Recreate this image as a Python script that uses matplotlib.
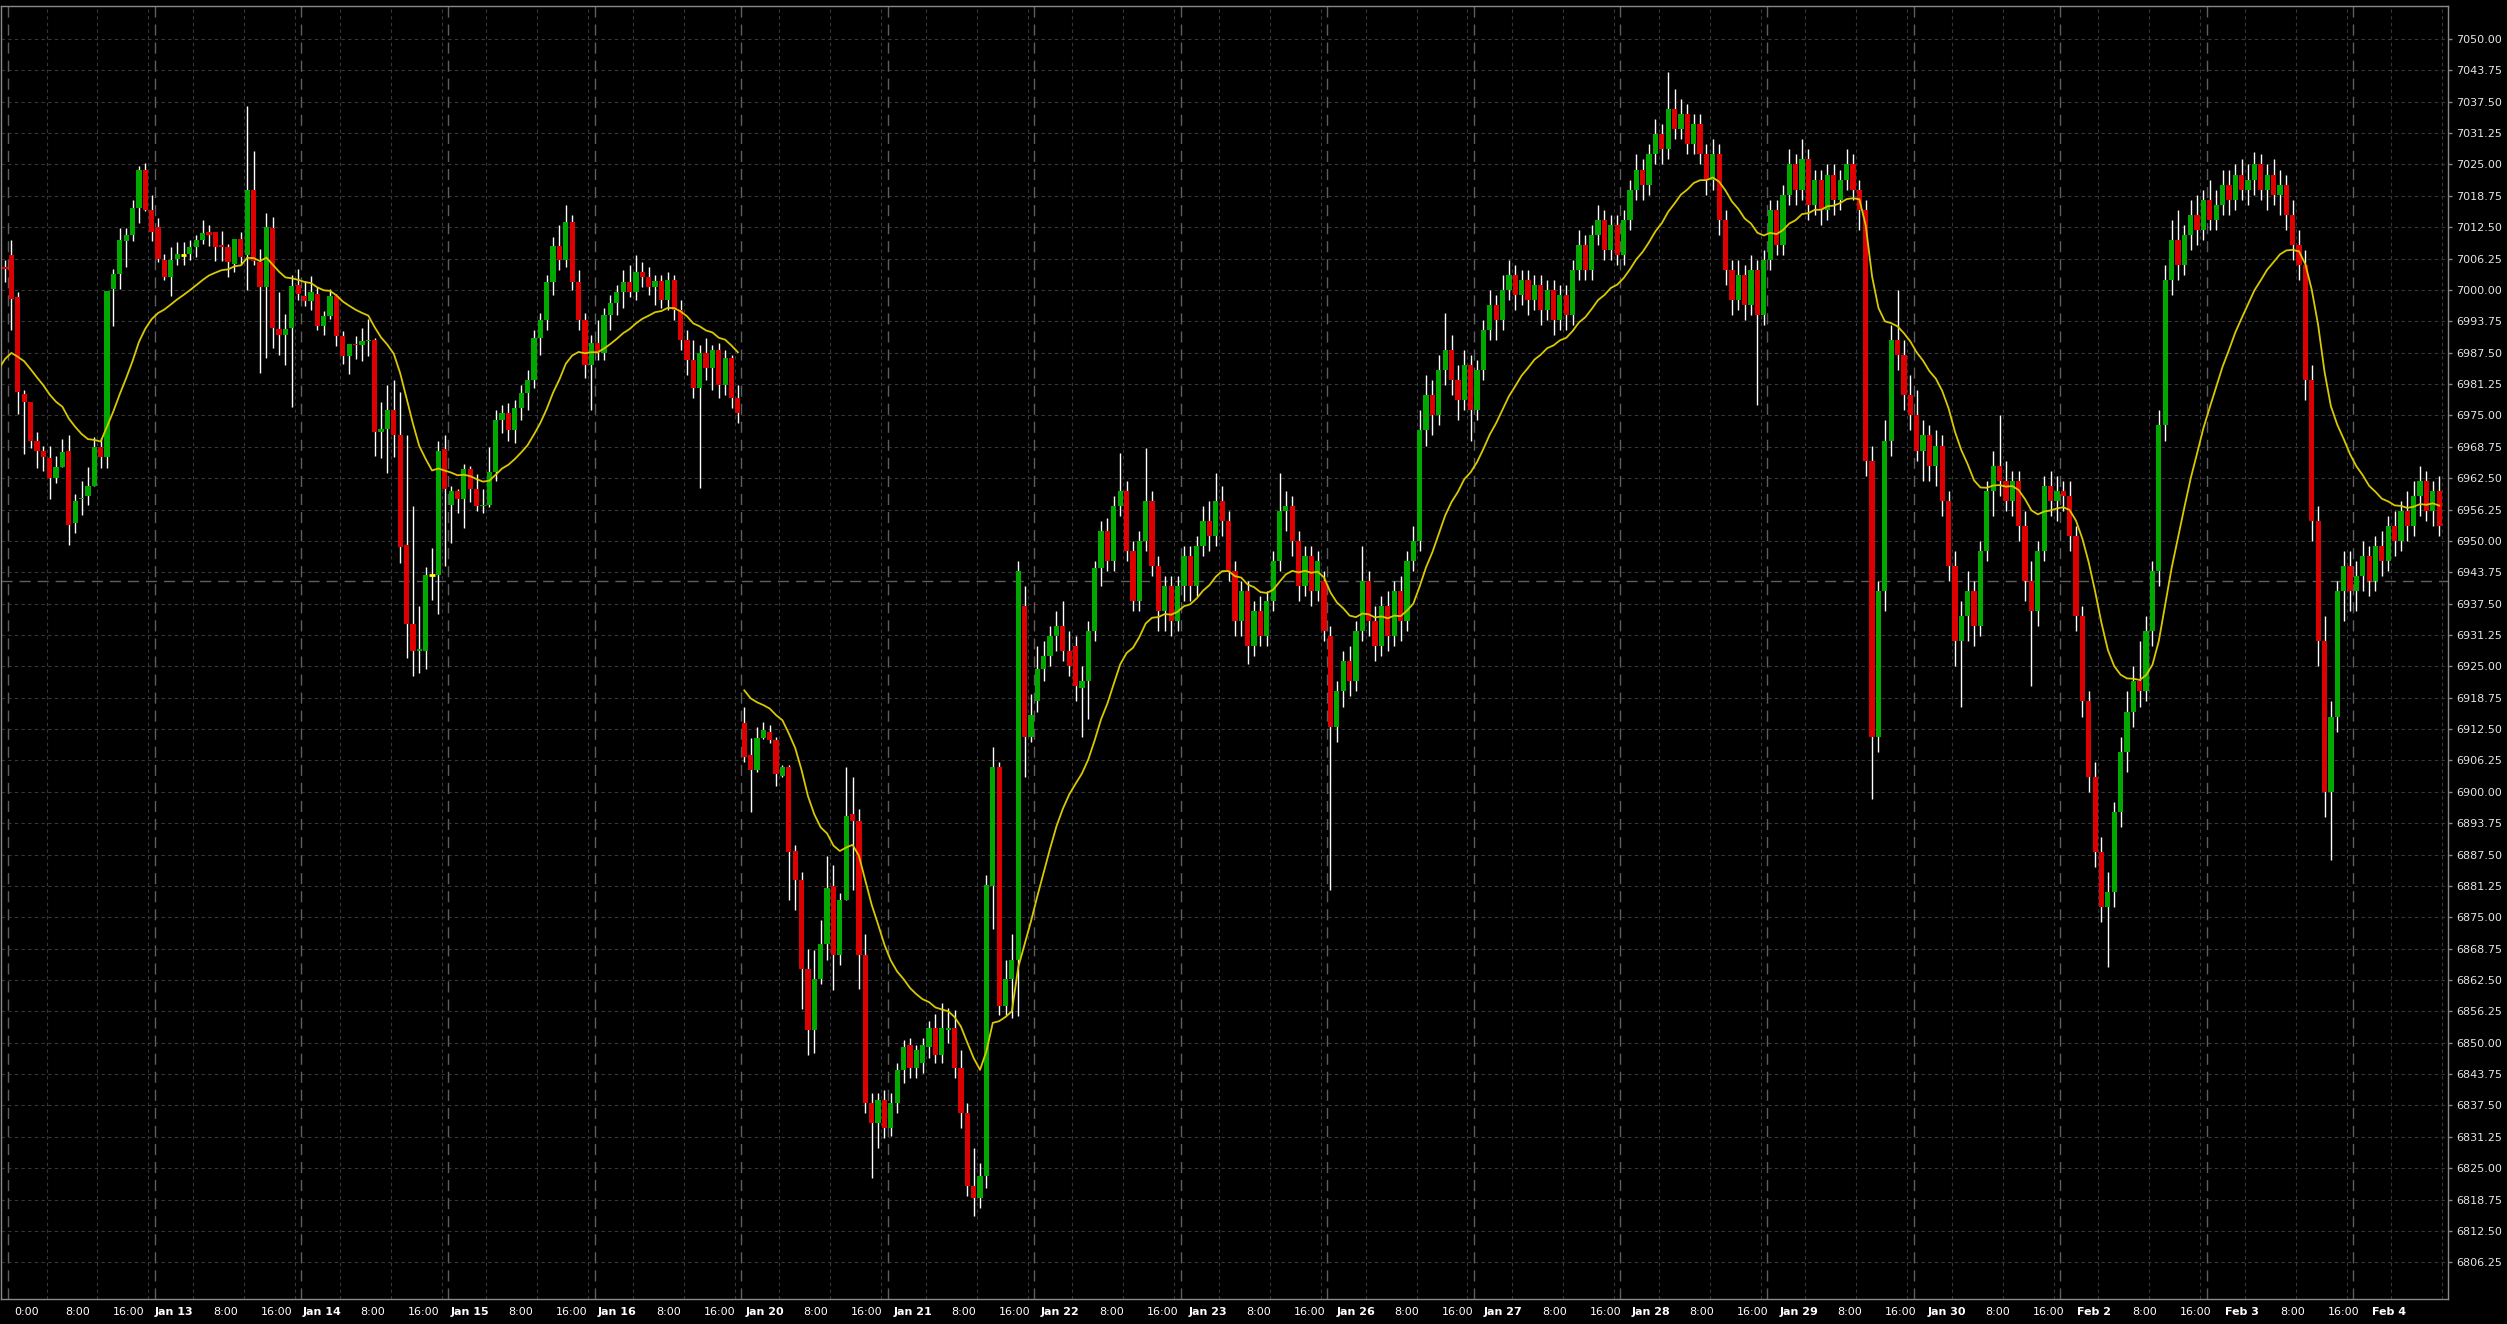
import numpy as np
import matplotlib.pyplot as plt

# Hourly OHLC bars, one per slot; slot 0 = Jan 11 20:00, first bar is slot -1
opens = [
    7013.5, 7004.5, 7007.0, 6998.5, 6979.25, 6977.75, 6970.0, 6968.0, 6966.5, 6962.5,
    6964.75, 6968.0, 6953.5, 6958.25, 6959.0, 6961.0, 6968.75, 6966.75, 7000.25, 7003.25,
    7009.75, 7011.0, 7016.25, 7024.0, 7016.0, 7012.5, 7006.0, 7002.5, 7006.25, 7007.0,
    7007.25, 7008.5, 7010.0, 7011.5, 7011.5, 7009.0, 7008.5, 7005.25, 7010.25, 7007.0,
    7020.0, 7005.5, 7000.5, 7012.25, 6992.25, 6991.0, 6992.5, 7001.0, 6998.75, 6997.75,
    6999.25, 6992.75, 6994.75, 6998.75, 6990.75, 6986.75, 6989.25, 6989.0, 6989.75, 6990.0,
    6971.75, 6972.25, 6976.0, 6971.0, 6949.25, 6933.5, 6928.0, 6928.0, 6943.25, 6943.25,
    6968.25, 6957.25, 6960.0, 6958.25, 6964.25, 6960.25, 6957.0, 6957.25, 6963.75, 6974.0,
    6975.5, 6972.0, 6976.5, 6979.5, 6982.0, 6990.5, 6994.0, 7001.5, 7008.75, 7006.0,
    7013.5, 7001.5, 6994.0, 6985.0, 6989.5, 6987.5, 6995.0, 6997.5, 6999.5, 7001.5,
    6999.5, 7003.5, 7002.5, 7000.5, 7001.75, 6998.0, 7002.0, 6996.0, 6990.0, 6986.0,
    6980.5, 6987.5, 6984.5, 6988.0, 6981.0, 6986.5, 6978.5,
    6913.75, 6907.25, 6904.25, 6910.75, 6912.0, 6910.25, 6903.25, 6905.0, 6888.25, 6882.5,
    6864.75, 6852.5, 6862.75, 6869.75, 6881.25, 6867.5, 6878.5, 6895.5, 6894.25, 6867.5,
    6838.0, 6834.0, 6838.5, 6833.0, 6838.0, 6844.5, 6849.5, 6845.0, 6846.0, 6849.25,
    6853.0, 6847.5, 6852.5, 6853.0, 6845.0, 6836.0, 6821.5, 6819.0, 6823.5, 6881.25,
    6905.0, 6857.25, 6862.75, 6866.5, 6937.0, 6911.0, 6918.0, 6924.5, 6927.0, 6931.0,
    6933.0, 6928.0, 6929.0, 6920.75, 6922.0, 6932.0, 6944.5, 6952.0, 6946.0, 6957.0,
    6960.0, 6948.0, 6938.0, 6950.0, 6958.0, 6945.0, 6936.0, 6941.0, 6934.0, 6941.0,
    6947.0, 6941.0, 6949.0, 6954.0, 6951.0, 6958.0, 6954.0, 6944.0, 6934.0, 6940.0,
    6929.0, 6936.0, 6931.0, 6938.0, 6946.0, 6956.0, 6957.0, 6950.0, 6941.0, 6947.0,
    6940.0, 6942.0, 6931.0, 6913.0, 6920.0, 6926.0, 6922.0, 6932.0, 6942.0, 6934.0,
    6929.0, 6937.0, 6931.0, 6940.0, 6934.0, 6946.0, 6950.0, 6972.0, 6979.0, 6975.0,
    6984.0, 6988.0, 6982.0, 6978.0, 6985.0, 6976.0, 6984.0, 6992.0, 6997.0, 6994.0,
    7000.0, 7003.0, 6999.0, 7002.0, 6998.0, 7001.0, 6996.0, 7000.0, 6994.0, 6999.0,
    6995.0, 7004.0, 7009.0, 7004.0, 7011.0, 7014.0, 7008.0, 7013.0, 7007.0, 7014.0,
    7020.0, 7024.0, 7021.0, 7027.0, 7031.0, 7028.0, 7036.0, 7032.0, 7035.0, 7029.0,
    7033.0, 7027.0, 7022.0, 7027.0, 7014.0, 7004.0, 6998.0, 7003.0, 6997.0, 7004.0,
    6995.0, 7006.0, 7016.0, 7009.0, 7019.0, 7025.0, 7020.0, 7026.0, 7017.0, 7022.0,
    7016.0, 7023.0, 7018.0, 7022.0, 7025.0, 7020.0, 7016.0, 6966.0, 6911.0, 6940.0,
    6970.0, 6990.0, 6987.0, 6979.0, 6975.0, 6968.0, 6971.0, 6965.0, 6969.0, 6958.0,
    6945.0, 6930.0, 6935.0, 6940.0, 6933.0, 6948.0, 6960.0, 6965.0, 6962.0, 6958.0,
    6962.0, 6953.0, 6942.0, 6936.0, 6948.0, 6961.0, 6958.0, 6960.0, 6959.0, 6951.0,
    6935.0, 6918.0, 6903.0, 6888.0, 6877.0, 6880.0, 6896.0, 6908.0, 6916.0, 6922.0,
    6920.0, 6932.0, 6944.0, 6973.0, 7002.0, 7010.0, 7005.0, 7011.0, 7015.0, 7012.0,
    7018.0, 7014.0, 7017.0, 7021.0, 7018.0, 7023.0, 7020.0, 7022.0, 7025.0, 7020.0,
    7023.0, 7019.0, 7021.0, 7015.0, 7009.0, 7005.0, 6982.0, 6954.0, 6930.0, 6900.0,
    6915.0, 6940.0, 6945.0, 6940.0, 6943.0, 6947.0, 6942.0, 6949.0, 6946.0, 6953.0,
    6950.0, 6956.0, 6953.0, 6959.0, 6962.0, 6956.0, 6960.0]
highs = [
    7015.0, 7006.0, 7010.0, 6999.5, 6980.0, 6977.75, 6971.75, 6969.0, 6969.0, 6967.0,
    6970.25, 6971.0, 6959.25, 6962.0, 6964.75, 6970.75, 6970.5, 6999.75, 7004.25, 7012.25,
    7012.25, 7018.0, 7024.75, 7025.25, 7019.0, 7014.25, 7007.25, 7008.5, 7009.5, 7009.5,
    7010.0, 7011.0, 7014.0, 7013.0, 7011.5, 7011.75, 7009.25, 7010.25, 7011.5, 7036.75,
    7027.75, 7008.25, 7015.25, 7014.5, 6999.5, 6995.25, 7003.0, 7004.25, 7001.75, 7002.75,
    7000.5, 6995.75, 7000.25, 6999.25, 6991.75, 6989.25, 6990.75, 6992.5, 6994.25, 6990.5,
    6977.75, 6981.0, 6982.0, 6979.75, 6971.0, 6957.0, 6937.0, 6944.75, 6948.5, 6970.0,
    6971.0, 6961.0, 6960.25, 6965.25, 6965.0, 6963.25, 6960.25, 6968.75, 6976.0, 6977.0,
    6977.5, 6978.0, 6981.0, 6984.0, 6992.0, 6995.5, 7003.0, 7010.5, 7013.0, 7017.0,
    7015.0, 7004.0, 6995.5, 6991.0, 6994.0, 6996.5, 6999.0, 7001.0, 7004.0, 7005.0,
    7007.0, 7005.5, 7004.5, 7003.0, 7003.0, 7003.5, 7003.0, 6998.0, 6992.0, 6990.0,
    6989.0, 6990.5, 6989.0, 6989.5, 6988.0, 6987.0, 6981.0,
    6917.0, 6910.75, 6913.0, 6914.0, 6913.25, 6911.0, 6905.25, 6905.25, 6889.5, 6884.0,
    6868.75, 6868.5, 6874.5, 6887.25, 6885.5, 6879.75, 6905.0, 6903.0, 6896.5, 6871.75,
    6840.0, 6840.0, 6840.5, 6840.0, 6846.0, 6850.5, 6851.0, 6849.5, 6851.0, 6854.25,
    6855.75, 6858.0, 6857.0, 6856.5, 6848.5, 6838.0, 6829.0, 6826.0, 6883.5, 6909.0,
    6906.0, 6866.5, 6871.75, 6946.0, 6941.0, 6919.5, 6929.0, 6930.0, 6933.0, 6936.0,
    6938.0, 6932.0, 6931.0, 6925.0, 6934.0, 6946.0, 6954.0, 6954.5, 6959.0, 6967.5,
    6962.0, 6950.0, 6952.0, 6968.5, 6960.0, 6947.0, 6943.0, 6943.0, 6943.0, 6949.0,
    6949.0, 6951.0, 6957.0, 6958.0, 6963.5, 6961.0, 6956.0, 6946.0, 6942.0, 6942.0,
    6938.0, 6939.0, 6940.0, 6948.0, 6963.5, 6960.0, 6959.0, 6952.0, 6949.0, 6949.0,
    6948.0, 6944.0, 6933.0, 6922.0, 6928.0, 6929.0, 6934.0, 6949.0, 6944.0, 6937.0,
    6939.0, 6940.0, 6942.0, 6943.0, 6948.0, 6953.0, 6976.0, 6983.0, 6982.0, 6987.0,
    6995.5, 6991.0, 6985.0, 6988.0, 6987.0, 6986.0, 6994.0, 7000.0, 6999.0, 7003.0,
    7006.0, 7005.0, 7004.0, 7004.0, 7003.0, 7003.0, 7002.0, 7002.0, 7001.0, 7001.0,
    7006.0, 7012.0, 7011.0, 7013.0, 7017.0, 7016.0, 7015.0, 7015.0, 7016.0, 7022.0,
    7027.0, 7026.0, 7029.0, 7034.0, 7033.0, 7043.5, 7040.0, 7038.0, 7037.0, 7035.0,
    7035.0, 7029.0, 7030.0, 7029.0, 7016.0, 7006.0, 7006.0, 7005.0, 7007.0, 7006.0,
    7008.0, 7018.0, 7018.0, 7021.0, 7028.0, 7027.0, 7030.0, 7028.0, 7024.0, 7024.0,
    7025.0, 7025.0, 7024.0, 7028.0, 7027.0, 7022.0, 7018.0, 6969.0, 6942.0, 6974.0,
    6993.0, 7000.0, 6990.0, 6983.0, 6980.0, 6974.0, 6973.0, 6972.0, 6971.0, 6960.0,
    6948.0, 6938.0, 6944.0, 6942.0, 6950.0, 6962.0, 6968.0, 6975.0, 6966.0, 6964.0,
    6964.0, 6956.0, 6946.0, 6950.0, 6963.0, 6964.0, 6963.0, 6962.0, 6962.0, 6953.0,
    6937.0, 6920.0, 6906.0, 6891.0, 6884.0, 6898.0, 6911.0, 6920.0, 6925.0, 6930.0,
    6935.0, 6946.0, 6976.0, 7005.0, 7014.0, 7016.0, 7013.0, 7018.0, 7019.0, 7020.0,
    7022.0, 7020.0, 7024.0, 7024.0, 7025.0, 7026.0, 7025.0, 7027.5, 7027.0, 7025.0,
    7026.0, 7024.0, 7023.0, 7018.0, 7012.0, 7008.0, 6985.0, 6957.0, 6935.0, 6918.0,
    6942.0, 6948.0, 6948.0, 6946.0, 6950.0, 6949.0, 6951.0, 6952.0, 6955.0, 6956.0,
    6958.0, 6960.0, 6962.0, 6965.0, 6964.0, 6962.0, 6963.0]
lows = [
    7000.0, 7001.5, 6992.0, 6975.25, 6967.25, 6968.5, 6964.5, 6964.0, 6958.25, 6961.5,
    6964.75, 6949.25, 6951.5, 6955.25, 6957.25, 6961.0, 6964.5, 6964.5, 6992.75, 7000.25,
    7004.5, 7009.75, 7013.25, 7015.75, 7009.75, 7005.5, 7002.0, 6998.75, 7005.0, 7005.0,
    7006.0, 7006.5, 7009.25, 7008.75, 7005.75, 7005.75, 7002.5, 7003.5, 7005.0, 7000.0,
    7005.0, 6983.5, 6986.5, 6988.5, 6987.0, 6985.0, 6976.75, 6998.0, 6996.75, 6996.0,
    6992.0, 6991.0, 6994.25, 6988.75, 6985.25, 6983.25, 6986.25, 6985.75, 6986.75, 6967.0,
    6966.5, 6963.5, 6966.75, 6945.5, 6926.75, 6923.0, 6923.75, 6924.5, 6938.25, 6935.5,
    6945.0, 6949.5, 6955.5, 6952.5, 6957.75, 6956.0, 6955.5, 6956.75, 6962.0, 6971.5,
    6970.0, 6969.5, 6974.0, 6976.0, 6980.5, 6987.0, 6992.0, 6999.0, 7004.0, 7004.5,
    7000.0, 6992.0, 6982.5, 6976.0, 6986.0, 6986.0, 6992.0, 6995.0, 6996.5, 6998.5,
    6998.0, 7000.5, 6999.0, 6997.0, 6996.5, 6996.0, 6994.0, 6988.0, 6983.0, 6978.5,
    6960.5, 6982.0, 6980.0, 6978.5, 6979.0, 6976.5, 6973.5,
    6906.0, 6896.0, 6904.0, 6910.5, 6909.75, 6901.25, 6903.0, 6878.5, 6876.5, 6856.75,
    6847.5, 6848.0, 6861.75, 6866.5, 6860.5, 6865.5, 6878.5, 6880.5, 6860.75, 6836.0,
    6823.0, 6829.0, 6831.0, 6831.5, 6836.0, 6842.0, 6843.0, 6843.0, 6844.0, 6847.0,
    6846.0, 6846.0, 6850.0, 6843.0, 6833.0, 6819.5, 6815.5, 6817.0, 6821.0, 6872.75,
    6855.5, 6855.5, 6855.0, 6855.25, 6903.0, 6910.0, 6916.0, 6922.0, 6925.0, 6928.0,
    6926.0, 6923.0, 6918.0, 6911.0, 6914.5, 6930.0, 6941.0, 6944.0, 6944.0, 6955.0,
    6946.0, 6936.0, 6936.0, 6948.0, 6943.0, 6932.0, 6932.0, 6931.0, 6932.0, 6938.0,
    6938.0, 6939.0, 6947.0, 6948.0, 6949.0, 6951.0, 6942.0, 6931.0, 6931.0, 6925.5,
    6927.0, 6929.0, 6929.0, 6936.0, 6944.0, 6952.0, 6947.0, 6938.0, 6939.0, 6937.0,
    6938.0, 6930.0, 6880.5, 6910.0, 6917.0, 6919.0, 6920.0, 6930.0, 6931.0, 6926.0,
    6927.0, 6928.0, 6929.0, 6930.0, 6932.0, 6944.0, 6948.0, 6969.0, 6971.0, 6973.0,
    6981.0, 6979.0, 6974.0, 6976.0, 6970.0, 6974.0, 6982.0, 6990.0, 6990.0, 6992.0,
    6998.0, 6996.0, 6997.0, 6995.0, 6996.0, 6993.0, 6994.0, 6991.0, 6992.0, 6992.0,
    6993.0, 7002.0, 7002.0, 7002.0, 7009.0, 7006.0, 7006.0, 7005.0, 7005.0, 7012.0,
    7018.0, 7018.0, 7019.0, 7025.0, 7025.0, 7026.0, 7030.0, 7030.0, 7027.0, 7027.0,
    7025.0, 7019.0, 7020.0, 7011.0, 7001.0, 6995.0, 6996.0, 6994.0, 6995.0, 6977.0,
    6993.0, 7004.0, 7007.0, 7007.0, 7017.0, 7017.0, 7018.0, 7014.0, 7015.0, 7013.0,
    7014.0, 7015.0, 7016.0, 7020.0, 7018.0, 7012.0, 6963.0, 6898.5, 6908.0, 6936.0,
    6967.0, 6984.0, 6976.0, 6972.0, 6966.0, 6962.0, 6962.0, 6961.0, 6955.0, 6942.0,
    6925.0, 6917.0, 6930.0, 6929.0, 6931.0, 6946.0, 6955.0, 6959.0, 6956.0, 6955.0,
    6950.0, 6938.0, 6921.0, 6933.0, 6946.0, 6955.0, 6954.0, 6956.0, 6948.0, 6932.0,
    6915.0, 6900.0, 6885.0, 6874.0, 6865.0, 6877.0, 6893.0, 6904.0, 6913.0, 6917.0,
    6918.0, 6929.0, 6941.0, 6970.0, 6999.0, 7002.0, 7003.0, 7008.0, 7009.0, 7010.0,
    7012.0, 7012.0, 7015.0, 7015.0, 7016.0, 7018.0, 7017.0, 7019.0, 7018.0, 7016.0,
    7017.0, 7015.0, 7012.0, 7006.0, 7002.0, 6978.0, 6950.0, 6925.0, 6895.0, 6886.5,
    6912.0, 6934.0, 6936.0, 6936.0, 6940.0, 6939.0, 6940.0, 6943.0, 6944.0, 6947.0,
    6948.0, 6950.0, 6951.0, 6955.0, 6954.0, 6953.0, 6951.0]
closes = [
    7004.5, 7004.25, 6998.25, 6979.75, 6977.75, 6970.0, 6968.0, 6966.75, 6962.5, 6964.75,
    6967.75, 6953.25, 6958.0, 6958.5, 6961.0, 6968.75, 6966.75, 6999.75, 7003.25, 7010.0,
    7011.0, 7016.25, 7024.0, 7016.0, 7011.5, 7006.25, 7002.5, 7006.0, 7007.25, 7007.0,
    7008.5, 7010.0, 7011.25, 7011.0, 7008.5, 7008.5, 7005.5, 7010.25, 7006.5, 7020.0,
    7005.75, 7000.5, 7012.5, 6992.5, 6991.0, 6992.25, 7000.75, 6999.25, 6997.75, 6999.5,
    6992.75, 6994.75, 6998.75, 6990.75, 6986.75, 6989.25, 6989.0, 6989.75, 6990.0, 6971.75,
    6972.25, 6976.0, 6971.0, 6948.75, 6933.5, 6928.0, 6928.5, 6943.25, 6943.25, 6968.0,
    6960.25, 6960.0, 6958.25, 6964.25, 6960.25, 6957.0, 6957.25, 6963.75, 6974.0, 6975.5,
    6972.0, 6976.5, 6979.5, 6982.0, 6990.5, 6994.0, 7001.5, 7008.75, 7006.0, 7013.5,
    7001.5, 6994.0, 6985.0, 6989.5, 6987.5, 6995.0, 6997.5, 6999.5, 7001.5, 6999.5,
    7003.5, 7002.5, 7000.5, 7001.75, 6998.0, 7002.0, 6996.0, 6990.0, 6986.0, 6980.5,
    6987.5, 6984.5, 6988.0, 6981.0, 6986.5, 6978.5, 6975.5,
    6907.0, 6904.25, 6910.75, 6912.25, 6910.25, 6903.5, 6905.0, 6888.0, 6882.5, 6864.75,
    6852.5, 6862.75, 6869.75, 6880.75, 6867.5, 6878.5, 6895.25, 6894.25, 6867.5, 6838.0,
    6834.0, 6838.5, 6833.0, 6838.0, 6844.5, 6849.25, 6845.0, 6848.5, 6849.5, 6853.0,
    6847.5, 6853.0, 6853.0, 6845.0, 6836.0, 6821.5, 6819.0, 6823.5, 6881.5, 6905.0,
    6857.25, 6862.75, 6866.5, 6944.0, 6911.0, 6915.25, 6924.5, 6927.0, 6931.0, 6933.0,
    6928.0, 6925.0, 6921.0, 6922.0, 6932.0, 6944.5, 6952.0, 6946.0, 6957.0, 6960.0,
    6948.0, 6938.0, 6950.0, 6958.0, 6945.0, 6936.0, 6941.0, 6934.0, 6941.0, 6947.0,
    6941.0, 6949.0, 6954.0, 6951.0, 6958.0, 6954.0, 6944.0, 6934.0, 6940.0, 6929.0,
    6936.0, 6931.0, 6938.0, 6946.0, 6956.0, 6957.0, 6950.0, 6941.0, 6947.0, 6940.0,
    6946.0, 6932.0, 6913.0, 6920.0, 6926.0, 6922.0, 6932.0, 6942.0, 6934.0, 6929.0,
    6937.0, 6931.0, 6940.0, 6934.0, 6946.0, 6950.0, 6972.0, 6979.0, 6975.0, 6984.0,
    6988.0, 6982.0, 6978.0, 6985.0, 6976.0, 6984.0, 6992.0, 6997.0, 6994.0, 7000.0,
    7003.0, 6999.0, 7002.0, 6998.0, 7001.0, 6996.0, 7000.0, 6994.0, 6999.0, 6995.0,
    7004.0, 7009.0, 7004.0, 7011.0, 7014.0, 7008.0, 7013.0, 7007.0, 7014.0, 7020.0,
    7024.0, 7021.0, 7027.0, 7031.0, 7028.0, 7036.0, 7032.0, 7035.0, 7029.0, 7033.0,
    7027.0, 7022.0, 7027.0, 7014.0, 7004.0, 6998.0, 7003.0, 6997.0, 7004.0, 6995.0,
    7006.0, 7016.0, 7009.0, 7019.0, 7025.0, 7020.0, 7026.0, 7017.0, 7022.0, 7016.0,
    7023.0, 7018.0, 7022.0, 7025.0, 7020.0, 7016.0, 6966.0, 6911.0, 6940.0, 6970.0,
    6990.0, 6987.0, 6979.0, 6975.0, 6968.0, 6971.0, 6965.0, 6969.0, 6958.0, 6945.0,
    6930.0, 6935.0, 6940.0, 6933.0, 6948.0, 6960.0, 6965.0, 6962.0, 6958.0, 6962.0,
    6953.0, 6942.0, 6936.0, 6948.0, 6961.0, 6958.0, 6960.0, 6959.0, 6951.0, 6935.0,
    6918.0, 6903.0, 6888.0, 6877.0, 6880.0, 6896.0, 6908.0, 6916.0, 6922.0, 6920.0,
    6932.0, 6944.0, 6973.0, 7002.0, 7010.0, 7005.0, 7011.0, 7015.0, 7012.0, 7018.0,
    7014.0, 7017.0, 7021.0, 7018.0, 7023.0, 7020.0, 7022.0, 7025.0, 7020.0, 7023.0,
    7019.0, 7021.0, 7015.0, 7009.0, 7005.0, 6982.0, 6954.0, 6930.0, 6900.0, 6915.0,
    6940.0, 6945.0, 6940.0, 6943.0, 6947.0, 6942.0, 6949.0, 6946.0, 6953.0, 6950.0,
    6956.0, 6953.0, 6959.0, 6962.0, 6956.0, 6960.0, 6953.0]
first_slot = -1

# moving average (exponential) restarts after the Jan 19 break
ma_alpha = 0.1
ma_start_slots = [-1, 116]
ma_seeds = [6982.0, 6921.7]

day_labels = ["0:00", "Jan 13", "Jan 14", "Jan 15", "Jan 16", "Jan 20", "Jan 21", "Jan 22",
              "Jan 23", "Jan 26", "Jan 27", "Jan 28", "Jan 29", "Jan 30", "Feb 2", "Feb 3", "Feb 4"]
hour_labels = ["8:00", "16:00"]
label_first_slot = 3.4     # where the 0:00 label of Jan 12 sits
label_day_span = 23.174    # label spacing per trading day (in slots)
bars_per_day = 23
ref_level = 6942.0

BG = "#000000"
UP, DOWN, FLAT = "#00a800", "#dc0000", "#ffff00"
GRID, DASH = "#383838", "#5e5e5e"

o, h, l, c = map(np.array, (opens, highs, lows, closes))
x = first_slot + np.arange(len(c))
last_slot = x[-1]

fig = plt.figure(figsize=(25.07, 13.24), dpi=100, facecolor=BG)
ax = fig.add_axes([0.0002, 25 / 1324, 2447 / 2507, 1293 / 1324])
ax.set_facecolor(BG)
x_left, x_right = -0.72, 383.3

# horizontal grid + reference level
yt = np.arange(6806.25, 7050.01, 6.25)
for v in yt:
    ax.axhline(v, color=GRID, lw=0.8, ls=(0, (3, 3)), zorder=0)
ax.axhline(ref_level, color=DASH, lw=1.0, ls=(0, (8, 5)), zorder=0)

# vertical grid: long dash once per session, short dash every 8 bars
for d in range(len(day_labels) + 1):
    base = 0.5 + bars_per_day * d
    if base < x_right:
        ax.axvline(base, color=DASH, lw=1.0, ls=(0, (8, 5)), zorder=0)
    for off in (6, 14, 22):
        if base + off < x_right:
            ax.axvline(base + off, color=GRID, lw=0.8, ls=(0, (3, 3)), zorder=0)

tick_pos, tick_txt, tick_bold = [], [], []
for d, lab in enumerate(day_labels):
    p0 = label_first_slot + label_day_span * d
    for off, txt in zip((0, 8, 16), [lab] + hour_labels):
        if p0 + off <= last_slot:
            tick_pos.append(p0 + off)
            tick_txt.append(txt)
            tick_bold.append(off == 0 and d > 0)

# candles
ax.vlines(x, l, h, color="white", lw=1.0, zorder=2)
up, dn, fl = c > o, c < o, c == o
w = 0.82
ax.bar(x[up], (c - o)[up], bottom=o[up], width=w, color=UP, lw=0, zorder=3)
ax.bar(x[dn], (c - o)[dn], bottom=o[dn], width=w, color=DOWN, lw=0, zorder=3)
ax.hlines(c[fl], x[fl] - w / 2, x[fl] + w / 2, color=FLAT, lw=2, zorder=3)

# moving average, one piece per segment
bounds = ma_start_slots + [last_slot + 1]
for s, seed, e in zip(ma_start_slots, ma_seeds, bounds[1:]):
    idx = (x >= s) & (x < e)
    vals = []
    prev = seed
    for v in c[idx]:
        prev = prev + ma_alpha * (v - prev)
        vals.append(prev)
    ax.plot(x[idx], vals, color="#d8c800", lw=1.3, zorder=4)

ax.set_xlim(x_left, x_right)
ax.set_ylim(6798.94, 7056.58)

ax.yaxis.tick_right()
ax.set_yticks(yt)
ax.set_yticklabels([f"{v:.2f}" for v in yt])
ax.tick_params(axis="y", colors="#888888", labelcolor="#e6e6e6", length=3, width=1,
               labelsize=8, pad=3)
ax.set_xticks(tick_pos)
ax.set_xticklabels(tick_txt)
ax.tick_params(axis="x", length=0, labelcolor="white", labelsize=8, pad=6)
for t, b in zip(ax.get_xticklabels(), tick_bold):
    if b:
        t.set_fontweight("bold")

for s in ax.spines.values():
    s.set_color("#8a8a8a")
    s.set_linewidth(1)

fig.savefig("out.png", dpi=100, facecolor=BG)
